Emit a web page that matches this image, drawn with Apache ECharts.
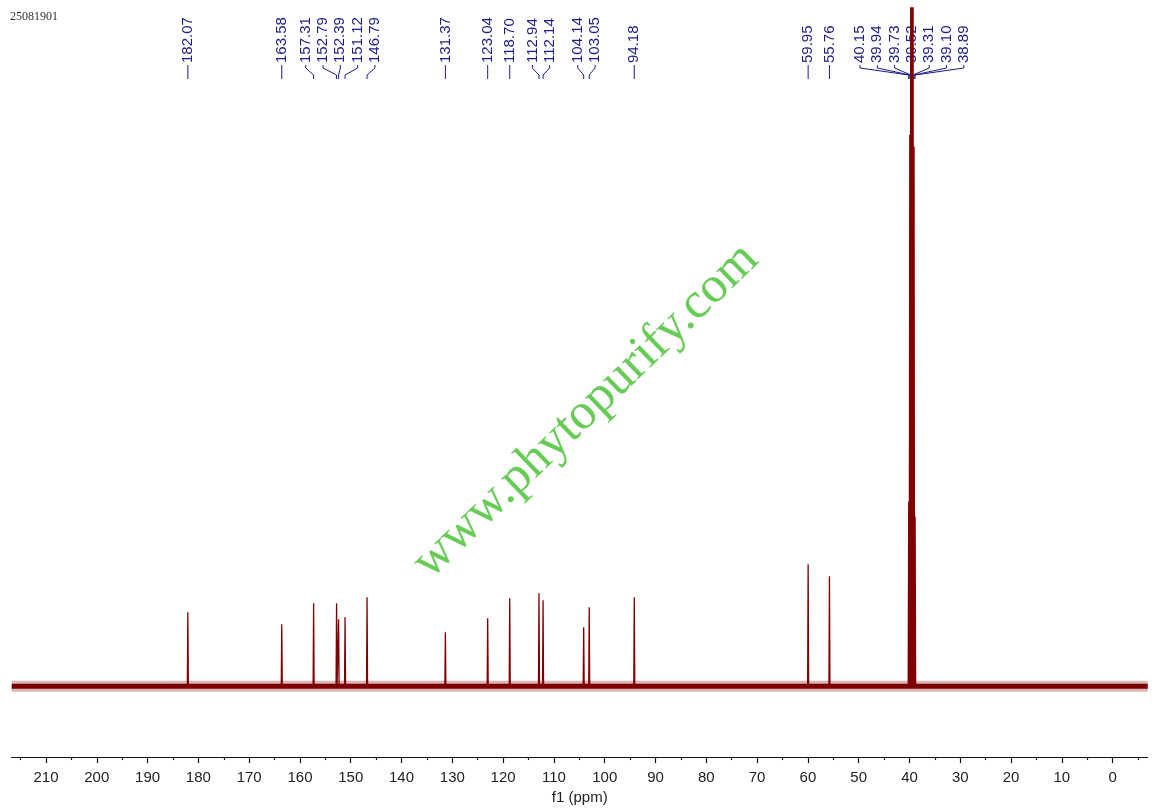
<!DOCTYPE html>
<html><head><meta charset="utf-8">
<script src="https://cdn.jsdelivr.net/npm/echarts@6/dist/echarts.min.js"></script>
<style>html,body{margin:0;padding:0;background:#fff}#c{width:1155px;height:810px}</style>
</head><body><div id="c"></div>
<script>
// ---- data ----
const peakPpm = [182.07,163.58,157.31,152.79,152.39,151.12,146.79,131.37,123.04,118.70,112.94,112.14,104.14,103.05,94.18,59.95,55.76,40.15,39.94,39.73,39.52,39.31,39.10,38.89];
const peakHeight = [74,62,83,83,67,69,89,54,68,88,93,86,59,79,89,122,110,185,552,900,1000,880,540,170];
const majorTicks = [210,200,190,180,170,160,150,140,130,120,110,100,90,80,70,60,50,40,30,20,10,0];
const minorTicks = [215,205,195,185,175,165,155,145,135,125,115,105,95,85,75,65,55,45,35,25,15,5,-5];
const xRange = [-6.9, 216.75];
const sampleId = '25081901';
const watermarkText = 'www.phytopurify.com';
const axisTitle = 'f1 (ppm)';

// ---- build series data ----
const half = 0.1;
const spectrum = [];
peakPpm.forEach((p, i) => { spectrum.push([p + half, 0], [p, peakHeight[i]], [p - half, 0]); });
const baseline = [[xRange[1], 0], [xRange[0], 0]];

const chart = echarts.init(document.getElementById('c'), null, {renderer: 'canvas'});
const axisFont = {fontFamily: '"Liberation Sans", Arial, sans-serif', fontSize: 15, color: '#222'};
const xCommon = {type: 'value', inverse: true, min: xRange[0], max: xRange[1], splitLine: {show: false}, position: 'bottom'};
chart.setOption({
  animation: false,
  backgroundColor: '#fff',
  grid: {left: 11.7, right: 7.3, top: 8, bottom: 52},
  xAxis: [
    Object.assign({}, xCommon, {
      axisLine: {show: true, onZero: false, lineStyle: {color: '#111', width: 1.2}},
      axisTick: {show: true, length: 6, customValues: majorTicks, lineStyle: {color: '#111', width: 1.2}},
      axisLabel: Object.assign({show: true, margin: 13, customValues: majorTicks}, axisFont),
      name: axisTitle, nameLocation: 'middle', nameGap: 27,
      nameTextStyle: axisFont
    }),
    Object.assign({}, xCommon, {
      axisLine: {show: false, onZero: false},
      axisTick: {show: true, length: 3, customValues: minorTicks, lineStyle: {color: '#111', width: 1.2}},
      axisLabel: {show: false}
    })
  ],
  yAxis: {type: 'value', min: -71, max: 679, show: false},
  series: [
    {type: 'line', data: baseline, xAxisIndex: 0, showSymbol: false, silent: true,
     lineStyle: {color: '#8a1010', width: 11, opacity: 0.3}},
    {type: 'line', data: baseline, xAxisIndex: 0, showSymbol: false, silent: true,
     lineStyle: {color: '#7a0000', width: 5}},
    {type: 'line', data: spectrum, xAxisIndex: 0, showSymbol: false, silent: true, clip: true,
     lineStyle: {color: '#800000', width: 1.3}}
  ]
});

// ---- peak labels with leader lines ----
const px = peakPpm.map(p => chart.convertToPixel({xAxisIndex: 0}, p));
const order = px.map((x, i) => i).sort((a, b) => px[a] - px[b]);
const sp = 17.3;
let groups = order.map(i => ({items: [i], lo: px[i], hi: px[i]}));
const ext = g => { const c = (g.lo + g.hi) / 2, w = (g.items.length - 1) * sp / 2; return [c - w, c + w]; };
let merged = true;
while (merged) {
  merged = false;
  for (let k = 0; k < groups.length - 1; k++) {
    if (ext(groups[k])[1] + sp > ext(groups[k + 1])[0]) {
      const a = groups[k], b = groups[k + 1];
      groups.splice(k, 2, {items: a.items.concat(b.items), lo: Math.min(a.lo, b.lo), hi: Math.max(a.hi, b.hi)});
      merged = true; break;
    }
  }
}
const labelColor = '#1c1c88';
const graphics = [];
groups.forEach(g => {
  const e = ext(g);
  g.items.forEach((idx, j) => {
    const lx = e[0] + j * sp;
    graphics.push({type: 'text', x: lx, y: 63, rotation: Math.PI / 2, silent: true,
      style: {text: peakPpm[idx].toFixed(2), fill: labelColor, font: '15px "Liberation Sans", Arial, sans-serif', align: 'left', verticalAlign: 'middle'}});
    graphics.push({type: 'polyline', silent: true,
      shape: {points: [[lx, 65], [lx, 68], [px[idx], 75], [px[idx], 79]]},
      style: {stroke: labelColor, lineWidth: 1, fill: null}});
  });
});
graphics.push({type: 'text', x: 10, y: 17, silent: true,
  style: {text: sampleId, fill: '#333', font: '12px "Liberation Serif", "Times New Roman", serif', align: 'left', verticalAlign: 'middle'}});
graphics.push({type: 'text', x: 586, y: 411, rotation: 44 * Math.PI / 180, silent: true,
  style: {text: watermarkText, fill: '#66cc55', font: '51px "Liberation Serif", "Times New Roman", serif', align: 'center', verticalAlign: 'middle'}});
chart.setOption({graphic: graphics});
</script>
</body></html>
